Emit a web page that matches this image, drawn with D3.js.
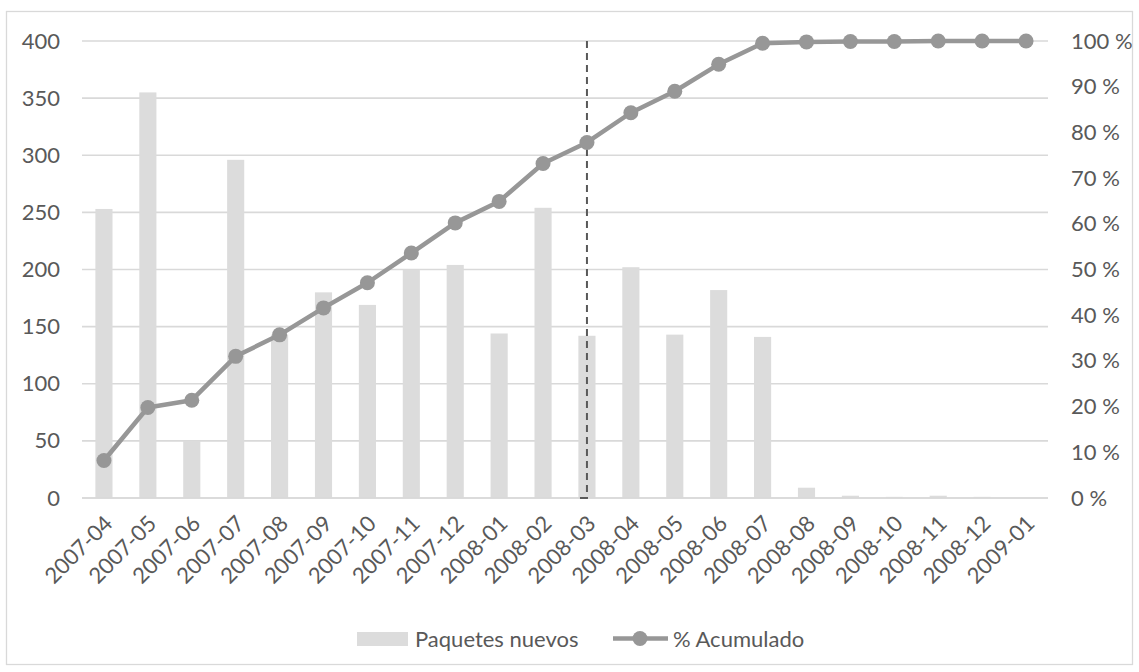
<!DOCTYPE html>
<html>
<head>
<meta charset="utf-8">
<script src="https://cdn.jsdelivr.net/npm/d3@7"></script>
<style>
  html, body { margin: 0; padding: 0; background: #ffffff; }
  svg { display: block; font-family: Lato, "Open Sans", sans-serif; }
</style>
</head>
<body>
<svg id="chart" width="1139" height="672"></svg>
<script>
// Monthly new packages and their cumulative share
const months = ["2007-04","2007-05","2007-06","2007-07","2007-08","2007-09","2007-10","2007-11",
                "2007-12","2008-01","2008-02","2008-03","2008-04","2008-05","2008-06","2008-07",
                "2008-08","2008-09","2008-10","2008-11","2008-12","2009-01"];
const newPackages = [253,355,50,296,143,180,169,200,204,144,254,142,202,143,182,141,9,2,1,2,1,0];
const cumulativePct = [8.2,19.8,21.4,31.0,35.7,41.6,47.1,53.6,60.2,64.9,73.2,77.8,84.3,89.0,94.9,99.5,99.8,99.9,99.9,100,100,100];
const leftTicks = [0,50,100,150,200,250,300,350,400];
const rightTicks = [0,10,20,30,40,50,60,70,80,90,100];
const markerMonth = "2008-03";
const seriesNames = ["Paquetes nuevos", "% Acumulado"];

const svg = d3.select("#chart");
const textColor = "#595959";
const gridColor = "#d9d9d9";
const barColor = "#dcdcdc";
const lineColor = "#979797";
const fontSize = "22px";
const fontFamily = "Lato, 'Open Sans', sans-serif";

const plot = { left: 82, right: 1048, top: 41, bottom: 498 };

// Chart frame
svg.append("rect")
  .attr("x", 6.5).attr("y", 11.5)
  .attr("width", 1126).attr("height", 653)
  .attr("fill", "none").attr("stroke", gridColor).attr("stroke-width", 1.3);

const x = d3.scaleBand().domain(months)
  .range([plot.left, plot.right])
  .paddingInner(0.61).paddingOuter(0.305);
const cx = m => x(m) + x.bandwidth() / 2;

const yL = d3.scaleLinear().domain([0, 400]).range([plot.bottom, plot.top]);
const yR = d3.scaleLinear().domain([0, 100]).range([plot.bottom, plot.top]);

// Horizontal gridlines
svg.append("g")
  .selectAll("line").data(leftTicks).join("line")
  .attr("x1", plot.left).attr("x2", plot.right)
  .attr("y1", d => yL(d)).attr("y2", d => yL(d))
  .attr("stroke", gridColor).attr("stroke-width", 1.6);

// Left axis
const axL = svg.append("g")
  .attr("transform", `translate(${plot.left},0)`)
  .call(d3.axisLeft(yL).tickValues(leftTicks).tickSize(0).tickPadding(22));
axL.select(".domain").remove();
axL.selectAll("text").attr("fill", textColor).style("font-size", fontSize)
  .style("font-family", fontFamily);

// Right axis
const axR = svg.append("g")
  .attr("transform", `translate(${plot.right},0)`)
  .call(d3.axisRight(yR).tickValues(rightTicks).tickSize(0).tickPadding(23)
        .tickFormat(d => d + " %"));
axR.select(".domain").remove();
axR.selectAll("text").attr("fill", textColor).style("font-size", fontSize)
  .style("font-family", fontFamily);

// Bars
svg.append("g")
  .selectAll("rect").data(months).join("rect")
  .attr("x", d => x(d))
  .attr("width", x.bandwidth())
  .attr("y", (d, i) => yL(newPackages[i]))
  .attr("height", (d, i) => yL(0) - yL(newPackages[i]))
  .attr("fill", barColor);

// Baseline
svg.append("line")
  .attr("x1", plot.left).attr("x2", plot.right)
  .attr("y1", yL(0)).attr("y2", yL(0))
  .attr("stroke", gridColor).attr("stroke-width", 1.6);

// Category labels
const axB = svg.append("g")
  .attr("transform", `translate(0,${plot.bottom})`)
  .call(d3.axisBottom(x).tickSize(0).tickPadding(0));
axB.select(".domain").remove();
axB.selectAll("text")
  .attr("fill", textColor).style("font-size", fontSize)
  .style("font-family", fontFamily)
  .attr("text-anchor", "end")
  .attr("dy", "0")
  .attr("transform", "translate(10,27) rotate(-45)");

// Dashed marker line
const mx = cx(markerMonth);
svg.append("line")
  .attr("x1", mx).attr("x2", mx)
  .attr("y1", plot.top).attr("y2", plot.bottom)
  .attr("stroke", "#595959").attr("stroke-width", 2)
  .attr("stroke-dasharray", "7,5");
svg.append("line")
  .attr("x1", mx - 7).attr("x2", mx + 1)
  .attr("y1", plot.bottom).attr("y2", plot.bottom)
  .attr("stroke", "#595959").attr("stroke-width", 2);

// Cumulative line
const line = d3.line()
  .x((d, i) => cx(months[i]))
  .y(d => yR(d));
svg.append("path")
  .datum(cumulativePct)
  .attr("d", line)
  .attr("fill", "none").attr("stroke", lineColor)
  .attr("stroke-width", 4.5).attr("stroke-linejoin", "round");
svg.append("g")
  .selectAll("circle").data(cumulativePct).join("circle")
  .attr("cx", (d, i) => cx(months[i]))
  .attr("cy", d => yR(d))
  .attr("r", 7.5)
  .attr("fill", lineColor);

// Legend
const lg = svg.append("g").style("font-family", fontFamily);
lg.append("rect").attr("x", 357).attr("y", 632).attr("width", 51).attr("height", 14).attr("fill", barColor);
lg.append("text").attr("x", 415).attr("y", 647).text(seriesNames[0])
  .attr("fill", textColor).style("font-size", fontSize);
lg.append("line").attr("x1", 613).attr("x2", 668).attr("y1", 638.5).attr("y2", 638.5)
  .attr("stroke", lineColor).attr("stroke-width", 4.5);
lg.append("circle").attr("cx", 640).attr("cy", 638.5).attr("r", 7.5).attr("fill", lineColor);
lg.append("text").attr("x", 673).attr("y", 647).text(seriesNames[1])
  .attr("fill", textColor).style("font-size", fontSize);
</script>
</body>
</html>
